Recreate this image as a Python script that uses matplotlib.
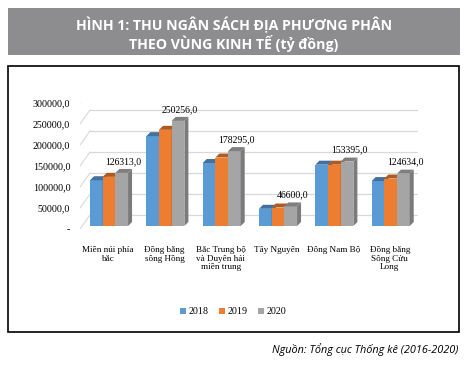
import numpy as np
import matplotlib
matplotlib.use("Agg")
import matplotlib.pyplot as plt
from matplotlib.patches import Rectangle, Polygon
from matplotlib.transforms import ScaledTranslation

# data (ty dong)
regions = ["Miền núi phía\nbắc", "Đồng bằng\nsông Hồng", "Bắc Trung bộ\nvà Duyên hải\nmiền trung",
           "Tây Nguyên", "Đông Nam Bộ", "Đồng bằng\nSông Cửu\nLong"]
years = ["2018", "2019", "2020"]
v2018 = [109000, 214000, 150000, 41000, 146000, 107000]
v2019 = [117000, 229000, 163000, 44000, 146000, 113000]
v2020 = [126313, 250256, 178295, 46600, 153395, 124634]
yticks = [0, 50000, 100000, 150000, 200000, 250000, 300000]

colors = ["#5b9bd5", "#ed7d31", "#a5a5a5"]
tops = ["#41719c", "#ae5a21", "#7f7f7f"]
sides = ["#3f6f99", "#a9571f", "#7b7b7b"]

W, H = 468, 367
fig = plt.figure(figsize=(W / 100, H / 100), dpi=100)
serif = "Liberation Serif"

# title banner
fig.patches.append(Rectangle((8 / W, 1 - 55 / H), 452 / W, 47 / H, transform=fig.transFigure,
                             facecolor="#8d8d8f", edgecolor="none"))
fig.text(0.5, 1 - 25 / H, "HÌNH 1: THU NGÂN SÁCH ĐỊA PHƯƠNG PHÂN", ha="center", va="center",
         color="white", fontsize=10.2, fontweight="bold", family="Open Sans")
fig.text(0.5, 1 - 43 / H, "THEO VÙNG KINH TẾ (tỷ đồng)", ha="center", va="center",
         color="white", fontsize=10.2, fontweight="bold", family="Open Sans")
# chart box
fig.patches.append(Rectangle((8 / W, 1 - 332 / H), 451 / W, 266 / H, transform=fig.transFigure,
                             facecolor="none", edgecolor="black", linewidth=1.2))
fig.text(458 / W, 1 - 350 / H, "Nguồn: Tổng cục Thống kê (2016-2020)", ha="right", va="center",
         fontsize=7.8, style="italic", family="Open Sans")

# axes: front plane
left, right, bot, top = 80, 418, 229, 103
ax = fig.add_axes([left / W, 1 - bot / H, (right - left) / W, (bot - top) / H])
ax.set_xlim(-0.5, 5.5)
ax.set_ylim(0, 300000)
for s in ax.spines.values():
    s.set_visible(False)

# pixel -> data conversions
px_x = 6 / (right - left)
px_y = 300000 / (bot - top)

# back wall gridlines and depth lines
gdx, gdy = 10, 14
back = ax.transData + ScaledTranslation(gdx / 100, gdy / 100, fig.dpi_scale_trans)
for t in yticks:
    ax.plot([-0.5, 5.5], [t, t], color="#d9d9d9", lw=0.9, transform=back, zorder=0)
    ax.plot([-0.5, -0.5 + gdx * px_x], [t, t + gdy * px_y], color="#d9d9d9", lw=0.8, zorder=0)

ax.set_yticks(yticks)
ax.set_yticklabels(["-"] + [f"{t},0" for t in yticks[1:]], fontsize=7.2, family=serif)
ax.tick_params(axis="y", length=0, pad=7)
ax.set_xticks(range(len(regions)))
ax.set_xticklabels(regions, fontsize=6.6, family=serif, va="top", linespacing=1.15)
ax.tick_params(axis="x", length=0, pad=12)

# bars with 3D faces
w = 0.225
bdx, bdy = 4 * px_x, 4 * px_y
shift = ax.transData + ScaledTranslation(2 / 100, 3 / 100, fig.dpi_scale_trans)
series = [v2018, v2019, v2020]
z = 2
for i in range(len(regions)):
    for j, vals in enumerate(series):
        x0 = i + (j - 1) * w - w / 2 - 0.02
        x1 = x0 + w
        h = vals[i]
        ax.add_patch(Rectangle((x0, 0), w, h, facecolor=colors[j], edgecolor="none",
                               transform=shift, zorder=z))
        ax.add_patch(Polygon([(x0, h), (x1, h), (x1 + bdx, h + bdy), (x0 + bdx, h + bdy)],
                             facecolor=tops[j], edgecolor="none", transform=shift, zorder=z))
        ax.add_patch(Polygon([(x1, 0), (x1, h), (x1 + bdx, h + bdy), (x1 + bdx, bdy)],
                             facecolor=sides[j], edgecolor="none", transform=shift, zorder=z))
        z += 1
        if j == 2:
            ax.text(x0 + w / 2 + bdx / 2, h + bdy + 3 * px_y, f"{h},0", ha="center", va="bottom",
                    fontsize=7.0, family=serif, transform=shift, zorder=z)

handles = [Rectangle((0, 0), 1, 1, facecolor=c) for c in colors]
fig.legend(handles, years, loc="center", bbox_to_anchor=(233 / W, 1 - 312 / H), ncol=3,
           frameon=False, prop={"family": serif, "size": 7.2}, handlelength=0.6,
           handleheight=0.6, handletextpad=0.3, columnspacing=1.0)

fig.savefig("out.png", dpi=100)
